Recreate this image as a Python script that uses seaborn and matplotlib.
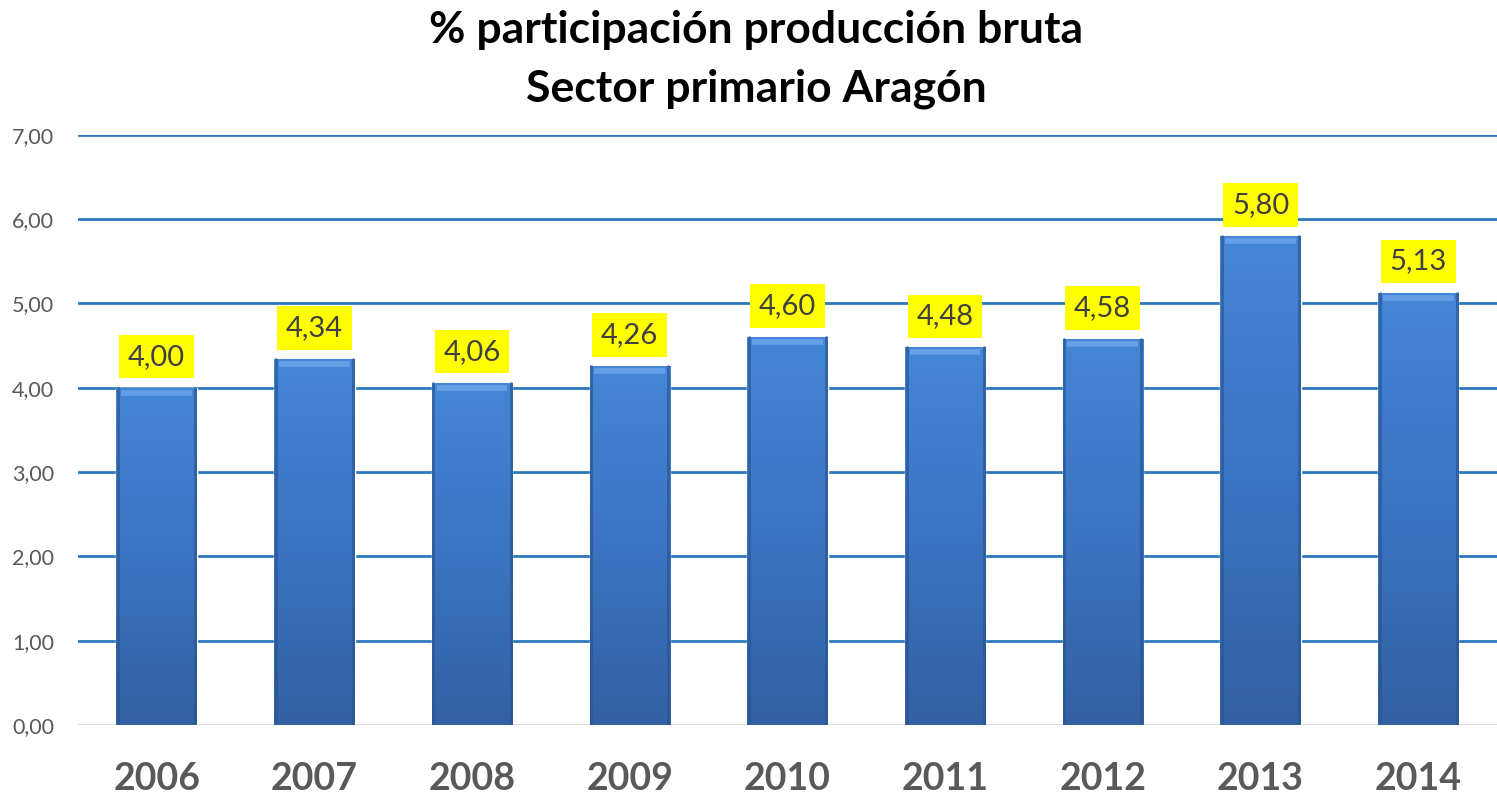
import numpy as np
import pandas as pd
import matplotlib
matplotlib.use("Agg")
import matplotlib.pyplot as plt
from matplotlib.colors import LinearSegmentedColormap
import seaborn as sns

years = ["2006", "2007", "2008", "2009", "2010", "2011", "2012", "2013", "2014"]
values = [4.00, 4.34, 4.06, 4.26, 4.60, 4.48, 4.58, 5.80, 5.13]
yticks = [0, 1, 2, 3, 4, 5, 6, 7]

sns.set_style("white")
plt.rcParams['font.family'] = ['Lato', 'DejaVu Sans']

df = pd.DataFrame({"year": years, "value": values})

fig = plt.figure(figsize=(14.97, 7.98), dpi=100)
ax = fig.add_axes([0.052, 0.0915, 0.948, 0.7395])

sns.barplot(data=df, x="year", y="value", color="#3a72bf", width=0.51,
            saturation=1, ax=ax, zorder=3)

# vertical gradient on each bar
grad = LinearSegmentedColormap.from_list("bar", ["#3260a3", "#3b74c2", "#4586d6"])
for p in ax.patches:
    x0, y0 = p.get_x(), p.get_y()
    w, h = p.get_width(), p.get_height()
    img = ax.imshow(np.linspace(0, 1, 256).reshape(-1, 1), cmap=grad,
                    extent=[x0, x0 + w, y0, y0 + h], origin="lower",
                    aspect="auto", zorder=3.5)
    img.set_clip_path(p)
    # darker side edges and light top bevel
    ax.plot([x0 + w * 0.02, x0 + w * 0.02], [y0, y0 + h], color="#2b5591",
            lw=2, zorder=4, alpha=0.7)
    ax.plot([x0 + w * 0.98, x0 + w * 0.98], [y0, y0 + h], color="#2b5591",
            lw=2, zorder=4, alpha=0.7)
    ax.plot([x0 + w * 0.06, x0 + w * 0.94], [y0 + h - 0.06, y0 + h - 0.06],
            color="#6ea6ea", lw=4, zorder=4, solid_capstyle="butt", alpha=0.8)

ax.set_xlim(-0.5, 8.5)
ax.set_ylim(0, 7)
ax.set_aspect("auto")

for v in yticks[1:]:
    ax.axhline(v, color="#2c78bf", lw=2, zorder=1)
ax.axhline(0, color="#d9d9d9", lw=2, zorder=2)

ax.set_yticks(yticks)
ax.set_yticklabels([f"{v:.2f}".replace(".", ",") for v in yticks],
                   fontsize=15.5, color="#595959")
ax.set_xticks(range(len(years)))
ax.set_xticklabels(years, fontsize=27, fontweight="bold", color="#595959")
ax.tick_params(axis="y", length=0, pad=17)
ax.tick_params(axis="x", length=0, pad=27)
ax.set_xlabel("")
ax.set_ylabel("")
sns.despine(ax=ax, left=True, bottom=True)

for i, v in enumerate(values):
    ax.annotate(f"{v:.2f}".replace(".", ","), (i, v), xytext=(0, 13),
                textcoords="offset points", ha="center", va="bottom",
                fontsize=21, color="#404040", zorder=6,
                bbox=dict(boxstyle="square,pad=0.3", fc="#ffff00", ec="none"))

fig.text(0.505, 0.962, "% participación producción bruta", ha="center",
         va="center", fontsize=32, fontweight="bold", color="black")
fig.text(0.505, 0.889, "Sector primario Aragón", ha="center",
         va="center", fontsize=32, fontweight="bold", color="black")

fig.savefig("out.png", dpi=100)
